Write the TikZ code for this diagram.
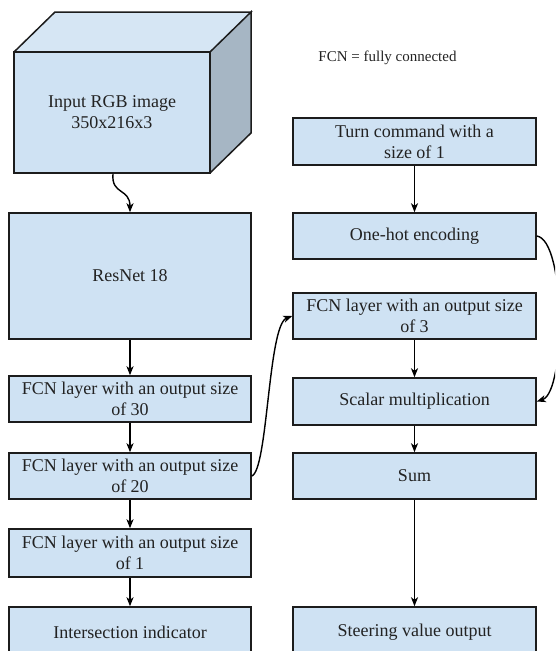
\documentclass[tikz,border=0pt]{standalone}
\usepackage{fontspec}
\setmainfont{Liberation Serif}
\newfontfamily\tnr{Liberation Serif}
\usetikzlibrary{arrows.meta}
\definecolor{boxfill}{HTML}{CFE2F3}
\definecolor{topfill}{HTML}{D6E6F4}
\definecolor{sidefill}{HTML}{A6B6C4}
\definecolor{edge}{HTML}{1C1C1C}
\definecolor{ink}{HTML}{222222}
\tikzset{
  layer/.style={draw=edge, fill=boxfill, line width=1.5pt, rectangle, align=center,
    inner sep=0pt, font=\tnr\fontsize{18}{21}\selectfont, text=ink},
  conn/.style={draw=black, line width=1.4pt, -{Stealth[length=9pt,width=7pt,inset=2.5pt]}},
}
\begin{document}
\begin{tikzpicture}[x=1pt,y=-1pt]
\useasboundingbox (0,0) rectangle (555,651);
\clip (0,0) rectangle (555,651);
% cube
\fill[topfill] (14,52) -- (55,12) -- (251,12) -- (210,52) -- cycle;
\fill[sidefill] (210,52) -- (251,12) -- (251,133) -- (210,173) -- cycle;
\draw[edge, line width=1.5pt, line join=miter] (14,52) -- (55,12) -- (251,12) -- (210,52)
  (210,52) -- (251,12) -- (251,133) -- (210,173);
\node[layer, minimum width=196pt, minimum height=121pt] (img) at (112,112.5) {Input RGB image\\350x216x3};
% left column
\node[layer, minimum width=242pt, minimum height=126pt] (res) at (130,276) {ResNet 18};
\node[layer, minimum width=242pt, minimum height=46pt] (f30) at (130,399) {FCN layer with an output size\\of 30};
\node[layer, minimum width=242pt, minimum height=46pt] (f20) at (130,476) {FCN layer with an output size\\of 20};
\node[layer, minimum width=242pt, minimum height=48pt] (f1) at (130,553) {FCN layer with an output size\\of 1};
\node[layer, minimum width=242pt, minimum height=50pt] (ind) at (130,632) {Intersection indicator};
% right column
\node[font=\tnr\fontsize{15}{18}\selectfont, text=ink] (note) at (387.5,58) {FCN = fully connected};
\node[layer, minimum width=243pt, minimum height=47pt] (turn) at (414.5,141.5) {Turn command with a\\size of 1};
\node[layer, minimum width=243pt, minimum height=46pt] (hot) at (414.5,236) {One-hot encoding};
\node[layer, minimum width=243pt, minimum height=46pt] (f3) at (414.5,316) {FCN layer with an output size\\of 3};
\node[layer, minimum width=243pt, minimum height=47pt] (sc) at (414.5,401.5) {Scalar multiplication};
\node[layer, minimum width=243pt, minimum height=46pt] (sum) at (414.5,476) {Sum};
\node[layer, minimum width=243pt, minimum height=50pt] (steer) at (414.5,632) {Steering value output};
% connectors
\draw[conn] (img.south) ++(1,0) coordinate (a0) .. controls (111,195) and (130,188) .. (res.north);
\draw[conn] (res) -- (f30);
\draw[conn] (f30) -- (f20);
\draw[conn] (f20) -- (f1);
\draw[conn] (f1) -- (ind);
\draw[conn] (turn) -- (hot);
\draw[conn] (f3) -- (sc);
\draw[conn] (sc) -- (sum);
\draw[conn] (sum) -- (steer);
\draw[conn] (f20.east) .. controls (268,470) and (268,325) .. (f3.west);
\draw[conn] (hot.east) .. controls (566,240) and (566,392) .. (sc.east);
\end{tikzpicture}
\end{document}
